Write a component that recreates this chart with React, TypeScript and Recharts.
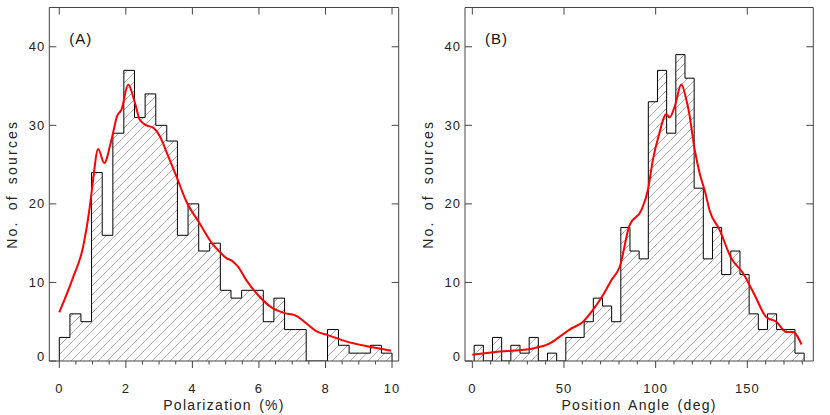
import React from 'react';
import { ComposedChart, Area, Line, XAxis, YAxis } from 'recharts';

// Panel A: polarization, 31 bins between 0 and 10 %
const polBinEdges = [0, 0.32, 0.65, 0.97, 1.29, 1.61, 1.94, 2.26, 2.58, 2.9, 3.23, 3.55, 3.87, 4.19, 4.52, 4.84, 5.16, 5.48, 5.81, 6.13, 6.45, 6.77, 7.1, 7.42, 7.74, 8.06, 8.39, 8.71, 9.03, 9.35, 9.68, 10];
const polCounts = [3, 6, 5, 24, 16, 29, 37, 31, 34, 30, 28, 16, 20, 14, 15, 9, 8, 9, 9, 5, 8, 4, 4, 0, 0, 4, 2, 1, 1, 2, 1];
const polCurveX = [0, 0.42, 0.72, 0.92, 1.0, 1.17, 1.35, 1.57, 1.74, 1.87, 2.07, 2.27, 2.42, 2.62, 2.82, 3.02, 3.27, 3.52, 3.82, 4.22, 4.62, 4.82, 5.02, 5.17, 5.37, 5.62, 5.97, 6.42, 6.77, 7.12, 7.42, 7.72, 8.07, 8.62, 9.22, 9.97];
const polCurveY = [6.2, 10.7, 14.6, 19.7, 22.5, 27.0, 25.2, 28.2, 31.2, 32.0, 35.2, 32.9, 30.7, 30.0, 29.7, 28.6, 26.1, 23.5, 20.3, 17.5, 14.8, 13.9, 13.1, 12.8, 12.0, 10.3, 8.4, 6.7, 6.1, 5.75, 4.8, 3.8, 3.3, 2.5, 1.9, 1.3];
const polMajor = [0, 2, 4, 6, 8, 10];
const polMinor = [0, 0.5, 1, 1.5, 2, 2.5, 3, 3.5, 4, 4.5, 5, 5.5, 6, 6.5, 7, 7.5, 8, 8.5, 9, 9.5, 10];

// Panel B: position angle, 5 deg bins
const paBinEdges = [1, 6, 11, 16, 21, 26, 31, 36, 41, 46, 51, 56, 61, 66, 71, 76, 81, 86, 91, 96, 101, 106, 111, 116, 121, 126, 131, 136, 141, 146, 151, 156, 161, 166, 171, 176, 181];
const paCounts = [2, 0, 3, 0, 2, 1, 3, 0, 1, 0, 3, 3, 5, 8, 7, 5, 17, 14, 13, 33, 37, 29, 39, 36, 22, 13, 17, 11, 14, 11, 6, 4, 6, 4, 4, 1];
const paCurveX = [0, 15, 33, 42, 47.7, 53, 60.4, 65.8, 71.3, 75.9, 80.4, 85.8, 92.2, 95.8, 98.5, 101.8, 105.8, 107.6, 110.4, 114, 116.7, 118.1, 121.3, 124, 127, 129.4, 134.9, 141.2, 147.6, 154, 160.3, 165.8, 171.2, 174.8, 179.6];
const paCurveY = [0.8, 1.2, 1.6, 2.2, 3.1, 4.0, 5.0, 6.5, 8.4, 10.3, 12.0, 17.3, 19.2, 21.8, 25.6, 28.8, 31.4, 31.0, 32.4, 35.2, 33.3, 31.8, 26.9, 23.9, 21.5, 19.2, 16.7, 13.1, 11.2, 8.4, 5.6, 5.0, 3.7, 3.7, 2.1];
const paMajor = [0, 50, 100, 150];
const paMinor = [0, 10, 20, 30, 40, 50, 60, 70, 80, 90, 100, 110, 120, 130, 140, 150, 160, 170, 180];

const countTicks = [0, 10, 20, 30, 40];

const AXIS = '#444';
const FONT = '"Liberation Sans", Arial, sans-serif';

const stepData = (edges: number[], counts: number[]) => {
  const pts = [{ x: edges[0], n: 0 }];
  counts.forEach((c, i) => pts.push({ x: edges[i], n: c }));
  pts.push({ x: edges[edges.length - 1], n: 0 });
  return pts;
};

const curveData = (xs: number[], ys: number[]) => xs.map((x, i) => ({ x, y: ys[i] }));

const BottomTick = ({ x, y, payload, majors }: any) => {
  const major = majors.includes(payload.value);
  return (
    <g>
      <line x1={x} y1={y} x2={x} y2={y + (major ? 7 : 3.5)} stroke={AXIS} />
      {major && (
        <text x={x} y={y + 32} textAnchor="middle" fontSize={13} letterSpacing={1} fill="#222" fontFamily={FONT}>
          {payload.value}
        </text>
      )}
    </g>
  );
};

const TopTick = ({ x, y }: any) => <line x1={x} y1={y} x2={x} y2={y + 7} stroke={AXIS} />;

const LeftTick = ({ x, y, payload }: any) => (
  <g>
    <line x1={x} y1={y} x2={x + 7} y2={y} stroke={AXIS} />
    <text x={x - 4} y={y + (payload.value === 0 ? 0 : 4.5)} textAnchor="end" fontSize={13} letterSpacing={1} fill="#222" fontFamily={FONT}>
      {payload.value}
    </text>
  </g>
);

const RightTick = ({ x, y, payload }: any) =>
  payload.value === 0 ? <g /> : <line x1={x} y1={y} x2={x - 7} y2={y} stroke={AXIS} />;

interface PanelProps {
  id: string;
  tag: string;
  edges: number[];
  counts: number[];
  curveX: number[];
  curveY: number[];
  domain: [number, number];
  majors: number[];
  minors: number[];
  xLabel: string;
  left: number;
  right: number;
}

const Panel = ({ id, tag, edges, counts, curveX, curveY, domain, majors, minors, xLabel, left, right }: PanelProps) => {
  const W = 415;
  const H = 415;
  const plotLeft = left + 40;
  const plotRight = W - right - 1;
  const plotTop = 7.5;
  const plotBottom = 361;
  return (
    <ComposedChart width={W} height={H} margin={{ top: 6.5, right, bottom: 10, left }}>
      <defs>
        <pattern id={id} patternUnits="userSpaceOnUse" width={9} height={9}>
          <path d="M0,9 L9,0 M-2,2 L2,-2 M7,11 L11,7" stroke="#777" strokeWidth={0.6} />
        </pattern>
      </defs>
      <XAxis
        xAxisId="b"
        dataKey="x"
        type="number"
        domain={domain}
        ticks={minors}
        interval={0}
        allowDataOverflow
        height={44}
        tickSize={0}
        tickMargin={0}
        tickLine={false}
        axisLine={{ stroke: AXIS }}
        tick={(p: any) => <BottomTick {...p} majors={majors} />}
      />
      <XAxis
        xAxisId="t"
        orientation="top"
        dataKey="x"
        type="number"
        domain={domain}
        ticks={majors}
        interval={0}
        allowDataOverflow
        height={1}
        tickSize={0}
        tickMargin={0}
        tickLine={false}
        axisLine={{ stroke: AXIS }}
        tick={(p: any) => <TopTick {...p} />}
      />
      <YAxis
        yAxisId="l"
        type="number"
        domain={[0, 45]}
        ticks={countTicks}
        interval={0}
        allowDataOverflow
        width={40}
        tickSize={0}
        tickMargin={0}
        tickLine={false}
        axisLine={{ stroke: AXIS }}
        tick={(p: any) => <LeftTick {...p} />}
      />
      <YAxis
        yAxisId="r"
        orientation="right"
        type="number"
        domain={[0, 45]}
        ticks={countTicks}
        interval={0}
        allowDataOverflow
        width={1}
        tickSize={0}
        tickMargin={0}
        tickLine={false}
        axisLine={{ stroke: AXIS }}
        tick={(p: any) => <RightTick {...p} />}
      />
      <Area
        xAxisId="b"
        yAxisId="l"
        data={stepData(edges, counts)}
        dataKey="n"
        type="stepAfter"
        stroke="#000"
        strokeWidth={1}
        fill={`url(#${id})`}
        fillOpacity={1}
        isAnimationActive={false}
        dot={false}
        activeDot={false}
      />
      <Line
        xAxisId="b"
        yAxisId="l"
        data={curveData(curveX, curveY)}
        dataKey="y"
        type="monotone"
        stroke="#ff0000"
        strokeWidth={2}
        dot={false}
        activeDot={false}
        isAnimationActive={false}
      />
      <text x={plotLeft + 20} y={plotTop + 36} fontSize={15} letterSpacing={1} fill="#111" fontFamily={FONT}>
        {tag}
      </text>
      <text
        x={(plotLeft + plotRight) / 2}
        y={plotBottom + 49}
        textAnchor="middle"
        fontSize={14}
        letterSpacing={1.3}
        wordSpacing={2}
        fill="#222"
        fontFamily={FONT}
      >
        {xLabel}
      </text>
      <text
        transform={`translate(${plotLeft - 32}, ${(plotTop + plotBottom) / 2}) rotate(-90)`}
        textAnchor="middle"
        fontSize={14}
        letterSpacing={2.2}
        wordSpacing={4}
        fill="#222"
        fontFamily={FONT}
      >
        No. of sources
      </text>
    </ComposedChart>
  );
};

export default function App() {
  return (
    <div style={{ position: 'absolute', left: 0, top: 0, width: 830, height: 415, display: 'flex', background: '#fff' }}>
      <Panel
        id="hatchA"
        tag="(A)"
        edges={polBinEdges}
        counts={polCounts}
        curveX={polCurveX}
        curveY={polCurveY}
        domain={[-0.3, 10.2]}
        majors={polMajor}
        minors={polMinor}
        xLabel="Polarization (%)"
        left={9.3}
        right={15.3}
      />
      <Panel
        id="hatchB"
        tag="(B)"
        edges={paBinEdges}
        counts={paCounts}
        curveX={paCurveX}
        curveY={paCurveY}
        domain={[-4, 186]}
        majors={paMajor}
        minors={paMinor}
        xLabel="Position Angle (deg)"
        left={10}
        right={15.7}
      />
    </div>
  );
}
